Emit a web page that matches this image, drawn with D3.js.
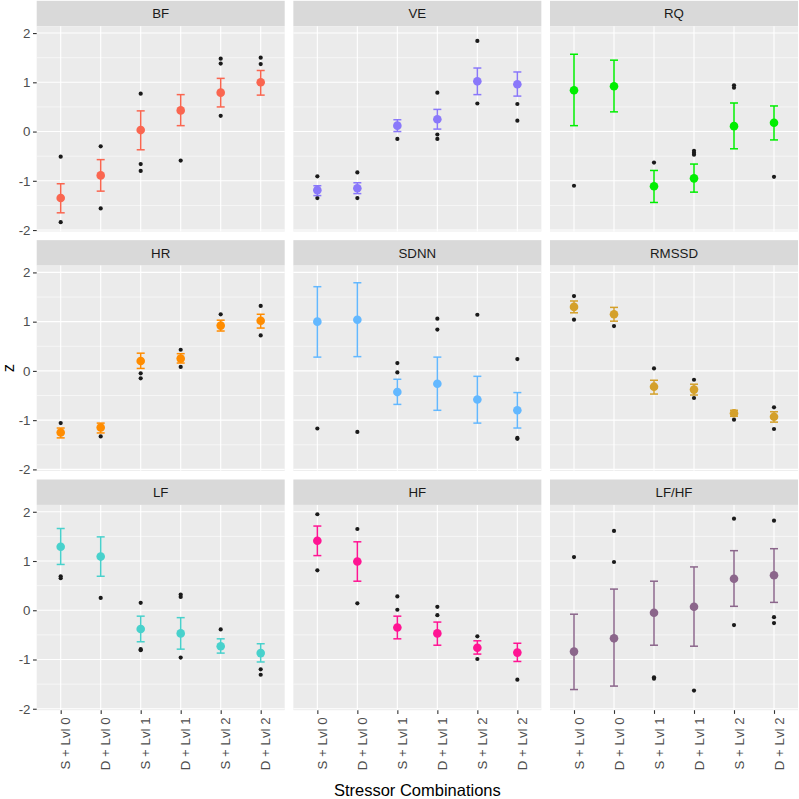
<!DOCTYPE html>
<html>
<head>
<meta charset="utf-8">
<script src="https://cdn.jsdelivr.net/npm/d3@7"></script>
<style>
  body { margin: 0; background: #fff; }
  text { font-family: "Liberation Sans", Arial, sans-serif; }
</style>
</head>
<body>
<div id="chart"></div>
<script>
// categories and facets
var categories = ["S + Lvl 0", "D + Lvl 0", "S + Lvl 1", "D + Lvl 1", "S + Lvl 2", "D + Lvl 2"];
var metrics = ["BF", "VE", "RQ", "HR", "SDNN", "RMSSD", "LF", "HF", "LF/HF"];
var colors = ["#FA6650", "#8A78FA", "#00EE00", "#FF8C00", "#63B8FF", "#D4A02A", "#48D1CC", "#FF1493", "#8B668B"];
var yTicks = [-2, -1, 0, 1, 2];

// group means, one row per metric
var means = [
    [-1.35, -0.89, 0.03, 0.43, 0.79, 1.00],
    [-1.19, -1.15, 0.12, 0.25, 1.02, 0.96],
    [0.84, 0.92, -1.11, -0.95, 0.11, 0.18],
    [-1.25, -1.15, 0.20, 0.25, 0.92, 1.02],
    [1.00, 1.04, -0.43, -0.26, -0.58, -0.80],
    [1.30, 1.15, -0.32, -0.38, -0.86, -0.93],
    [1.29, 1.09, -0.38, -0.47, -0.73, -0.87],
    [1.41, 0.99, -0.35, -0.47, -0.76, -0.86],
    [-0.84, -0.57, -0.05, 0.07, 0.64, 0.71]
];
// error bar bounds
var lower = [
    [-1.65, -1.21, -0.37, 0.12, 0.50, 0.74],
    [-1.30, -1.26, 0.00, 0.05, 0.75, 0.72],
    [0.12, 0.40, -1.44, -1.23, -0.35, -0.17],
    [-1.36, -1.26, 0.05, 0.16, 0.81, 0.87],
    [0.28, 0.29, -0.68, -0.80, -1.06, -1.16],
    [1.18, 1.01, -0.47, -0.49, -0.92, -1.04],
    [0.93, 0.69, -0.64, -0.79, -0.87, -1.05],
    [1.11, 0.59, -0.58, -0.71, -0.89, -1.04],
    [-1.61, -1.54, -0.71, -0.73, 0.08, 0.16]
];
var upper = [
    [-1.06, -0.57, 0.42, 0.75, 1.08, 1.24],
    [-1.10, -1.04, 0.24, 0.45, 1.29, 1.21],
    [1.57, 1.45, -0.79, -0.66, 0.58, 0.52],
    [-1.16, -1.06, 0.36, 0.35, 1.03, 1.15],
    [1.71, 1.79, -0.17, 0.28, -0.11, -0.44],
    [1.42, 1.29, -0.19, -0.27, -0.80, -0.83],
    [1.66, 1.49, -0.12, -0.15, -0.58, -0.68],
    [1.71, 1.39, -0.12, -0.24, -0.62, -0.67],
    [-0.08, 0.43, 0.59, 0.88, 1.21, 1.25]
];
// individual observations, per metric then per category
var observations = [
    [[-0.51, -1.84], [-0.30, -1.56], [0.77, -0.66, -0.80], [-0.59], [1.48, 1.38, 0.32], [1.50, 1.37]],
    [[-0.91, -1.35], [-0.83, -1.35], [-0.15], [0.79, -0.06, -0.15], [1.84, 0.57], [0.56, 0.22]],
    [[-1.10], [], [-0.63], [-0.39, -0.43, -0.47], [0.94, 0.89], [-0.92]],
    [[-1.06], [-1.33], [-0.05, -0.15], [0.43, 0.08], [1.15], [1.32, 0.72]],
    [[-1.17], [-1.24], [0.16, -0.03], [1.06, 0.84], [1.14], [0.24, -1.36, -1.38]],
    [[1.52, 1.04], [0.91], [0.05], [-0.18, -0.55], [-0.99], [-0.74, -1.18]],
    [[0.69, 0.65], [0.25], [0.15, -0.79, -0.81], [0.32, 0.27, -0.96], [-0.39], [-1.20, -1.31]],
    [[1.95, 0.81], [1.65, 0.14], [0.28, 0.01], [0.07, -0.10], [-0.53, -0.99], [-1.41]],
    [[1.08], [1.61, 0.98], [-1.36, -1.39], [-1.63], [1.86, -0.30], [1.82, -0.14, -0.26]]
];

var w = 799;
var h = 799;
var panelW = 248;
var panelH = 205.3;
var gap = 8.65;
var stripH = 25.4;
var left0 = 36.7;
var top0 = 0.8;

var svg = d3.select("#chart")
    .append("svg")
    .attr("width", w)
    .attr("height", h);

// shared y range from all values, expanded by 5%
var allVals = d3.merge([d3.merge(lower), d3.merge(upper), d3.merge(observations.map(function(m) { return d3.merge(m); }))]);
var lo = d3.min(allVals), hi = d3.max(allVals);
var pad = (hi - lo) * 0.05;

var xScale = d3.scalePoint()
    .domain(categories)
    .range([0, panelW])
    .padding(0.6);

var yScale = d3.scaleLinear()
    .domain([lo - pad, hi + pad])
    .range([panelH, 0]);

var minorTicks = [-1.5, -0.5, 0.5, 1.5];

metrics.forEach(function(name, m) {
    var col = m % 3, row = Math.floor(m / 3);
    var px = left0 + col * (panelW + gap);
    var stripTop = top0 + row * (stripH + panelH + gap);
    var py = stripTop + stripH;

    // strip
    svg.append("rect")
        .attr("x", px).attr("y", stripTop)
        .attr("width", panelW).attr("height", stripH)
        .attr("fill", "#D9D9D9");
    svg.append("text")
        .attr("x", px + panelW / 2)
        .attr("y", stripTop + stripH / 2)
        .attr("dy", "0.35em")
        .attr("text-anchor", "middle")
        .attr("font-size", 13.3)
        .attr("fill", "#1A1A1A")
        .text(name);

    var g = svg.append("g").attr("transform", "translate(" + px + "," + py + ")");

    g.append("rect")
        .attr("width", panelW).attr("height", panelH)
        .attr("fill", "#EBEBEB");

    // grid
    g.selectAll(".minor").data(minorTicks).enter().append("line")
        .attr("x1", 0).attr("x2", panelW)
        .attr("y1", function(d) { return yScale(d); })
        .attr("y2", function(d) { return yScale(d); })
        .attr("stroke", "#fff").attr("stroke-width", 0.55);
    g.selectAll(".majorY").data(yTicks).enter().append("line")
        .attr("x1", 0).attr("x2", panelW)
        .attr("y1", function(d) { return yScale(d); })
        .attr("y2", function(d) { return yScale(d); })
        .attr("stroke", "#fff").attr("stroke-width", 1.1);
    g.selectAll(".majorX").data(categories).enter().append("line")
        .attr("y1", 0).attr("y2", panelH)
        .attr("x1", function(d) { return xScale(d); })
        .attr("x2", function(d) { return xScale(d); })
        .attr("stroke", "#fff").attr("stroke-width", 1.1);

    // raw points
    var pts = [];
    observations[m].forEach(function(vals, i) {
        vals.forEach(function(v) { pts.push({ c: categories[i], v: v }); });
    });
    g.selectAll(".obs").data(pts).enter().append("circle")
        .attr("cx", function(d) { return xScale(d.c); })
        .attr("cy", function(d) { return yScale(d.v); })
        .attr("r", 2.1)
        .attr("fill", "#1A1A1A");

    // error bars
    var bars = g.selectAll(".err").data(categories).enter().append("g")
        .attr("stroke", colors[m]).attr("stroke-width", 1.5);
    bars.append("line")
        .attr("x1", function(d) { return xScale(d); })
        .attr("x2", function(d) { return xScale(d); })
        .attr("y1", function(d, i) { return yScale(upper[m][i]); })
        .attr("y2", function(d, i) { return yScale(lower[m][i]); });
    bars.append("line")
        .attr("x1", function(d) { return xScale(d) - 4; })
        .attr("x2", function(d) { return xScale(d) + 4; })
        .attr("y1", function(d, i) { return yScale(upper[m][i]); })
        .attr("y2", function(d, i) { return yScale(upper[m][i]); });
    bars.append("line")
        .attr("x1", function(d) { return xScale(d) - 4; })
        .attr("x2", function(d) { return xScale(d) + 4; })
        .attr("y1", function(d, i) { return yScale(lower[m][i]); })
        .attr("y2", function(d, i) { return yScale(lower[m][i]); });

    // means
    g.selectAll(".mean").data(categories).enter().append("circle")
        .attr("cx", function(d) { return xScale(d); })
        .attr("cy", function(d, i) { return yScale(means[m][i]); })
        .attr("r", 4.3)
        .attr("fill", colors[m]);

    // y axis on the left column
    if (col === 0) {
        var yAxis = d3.axisLeft(yScale).tickValues(yTicks).tickSize(3.7).tickPadding(2.5).tickFormat(d3.format("d"));
        var ya = g.append("g").call(yAxis);
        ya.select(".domain").remove();
        ya.selectAll("line").attr("stroke", "#333333").attr("stroke-width", 1.1);
        ya.selectAll("text").attr("font-size", 13.3).attr("fill", "#4D4D4D")
            .attr("font-family", "Liberation Sans, Arial, sans-serif")
            .text(function(d) { return d < 0 ? "-" + Math.abs(d) : d; });
    }

    // x axis on the bottom row
    if (row === 2) {
        var xAxis = d3.axisBottom(xScale).tickSize(3.7).tickPadding(2.5);
        var xa = g.append("g").attr("transform", "translate(0," + panelH + ")").call(xAxis);
        xa.select(".domain").remove();
        xa.selectAll("line").attr("stroke", "#333333").attr("stroke-width", 1.1);
        xa.selectAll("text")
            .attr("font-size", 13.3).attr("fill", "#4D4D4D")
            .attr("font-family", "Liberation Sans, Arial, sans-serif")
            .attr("transform", "rotate(-90)")
            .attr("text-anchor", "end")
            .attr("x", -7.2)
            .attr("y", 0)
            .attr("dy", "0.68em");
    }
});

// axis titles
var panelsTop = top0 + stripH;
var panelsBottom = top0 + 3 * (stripH + panelH) + 2 * gap;
svg.append("text")
    .attr("transform", "translate(13.5," + ((panelsTop + panelsBottom) / 2) + ") rotate(-90)")
    .attr("text-anchor", "middle")
    .attr("font-size", 16.5)
    .attr("fill", "#000")
    .text("z");
svg.append("text")
    .attr("x", left0 + (3 * panelW + 2 * gap) / 2)
    .attr("y", 796)
    .attr("text-anchor", "middle")
    .attr("font-size", 16.5)
    .attr("fill", "#000")
    .text("Stressor Combinations");
</script>
</body>
</html>
